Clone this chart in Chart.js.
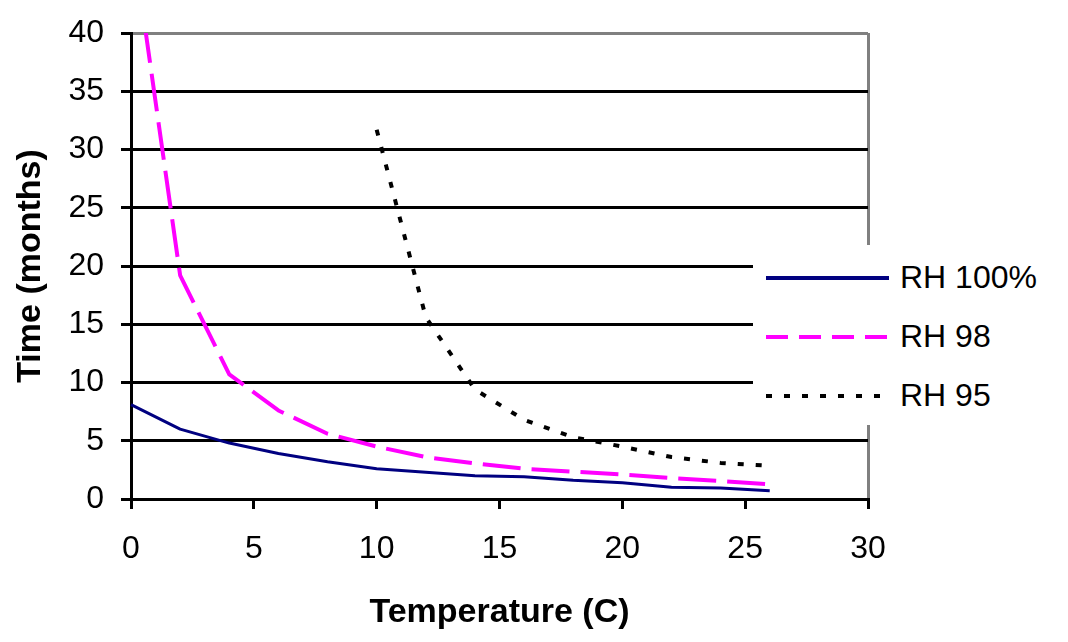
<!DOCTYPE html>
<html>
<head>
<meta charset="utf-8">
<script src="https://cdn.jsdelivr.net/npm/chart.js@4"></script>
<style>
  html, body { margin: 0; padding: 0; background: #fff; }
  #wrap { position: relative; width: 1068px; height: 642px; }
  #legend { position: absolute; left: 753px; top: 245px; }
</style>
</head>
<body>
<div id="wrap">
  <canvas id="c" width="1068" height="642"></canvas>
  <svg id="legend" width="315" height="180" xmlns="http://www.w3.org/2000/svg"></svg>
</div>
<script>
// ---- data ----
const temperatures = [0, 2, 4, 6, 8, 10, 12, 14, 16, 18, 20, 22, 24, 26];
const seriesNames = ['RH 100%', 'RH 98', 'RH 95'];
const rh100 = [8.1, 6.0, 4.8, 3.9, 3.2, 2.6, 2.3, 2.0, 1.9, 1.6, 1.4, 1.0, 0.95, 0.7];
const rh98  = [49, 19.2, 10.7, 7.6, 5.6, 4.5, 3.6, 3.05, 2.6, 2.35, 2.1, 1.8, 1.55, 1.25];
const rh95  = [null, null, null, null, null, 31.7, 15.6, 9.4, 6.8, 5.3, 4.5, 3.6, 3.1, 2.85];
const yTicks = [0, 5, 10, 15, 20, 25, 30, 35, 40];
const xTicks = [0, 5, 10, 15, 20, 25, 30];
const xTitle = 'Temperature (C)';
const yTitle = 'Time (months)';

// ---- styles ----
const styles = [
  { color: '#000080', width: 3, dash: [] },
  { color: '#FF00FF', width: 4, dash: [38, 11] },
  { color: '#000000', width: 4, dash: [6, 12] }
];
const seriesValues = [rh100, rh98, rh95];

const toPoints = vals => temperatures.map((t, i) => ({ x: t, y: vals[i] })).filter(p => p.y !== null);

const datasets = seriesValues.map((vals, i) => ({
  label: seriesNames[i],
  data: toPoints(vals),
  borderColor: styles[i].color,
  backgroundColor: styles[i].color,
  borderWidth: styles[i].width,
  borderDash: styles[i].dash,
  borderCapStyle: 'butt',
  borderJoinStyle: 'round',
  pointRadius: 0,
  pointHoverRadius: 0,
  tension: 0,
  fill: false,
  clip: { left: 4, top: 0, right: 4, bottom: 4 }
}));

const FONT = "'Liberation Sans', Arial, sans-serif";

new Chart(document.getElementById('c'), {
  type: 'line',
  data: { datasets },
  options: {
    responsive: false,
    animation: false,
    events: [],
    layout: { padding: { left: 0, top: 33, right: 200, bottom: 0 } },
    plugins: { legend: { display: false }, tooltip: { enabled: false } },
    scales: {
      x: {
        type: 'linear',
        min: xTicks[0],
        max: xTicks[xTicks.length - 1],
        afterBuildTicks: s => { s.ticks = xTicks.map(v => ({ value: v })); },
        afterFit: s => { s.height = 143; s.paddingLeft = 0; s.paddingRight = 0; },
        grid: {
          display: true,
          drawOnChartArea: true,
          drawTicks: true,
          tickLength: 10,
          lineWidth: 3,
          tickWidth: 3,
          tickColor: '#000',
          color: ctx => (ctx.tick && ctx.tick.value === xTicks[xTicks.length - 1]) ? '#808080' : 'rgba(0,0,0,0)'
        },
        border: { display: true, color: '#000', width: 3 },
        ticks: {
          color: '#000',
          font: { family: FONT, size: 32 },
          padding: 21,
          maxRotation: 0,
          autoSkip: false
        },
        title: {
          display: true,
          text: xTitle,
          color: '#000',
          font: { family: FONT, size: 34, weight: 'bold' },
          padding: { top: 0, bottom: 9 }
        }
      },
      y: {
        type: 'linear',
        min: yTicks[0],
        max: yTicks[yTicks.length - 1],
        afterBuildTicks: s => { s.ticks = yTicks.map(v => ({ value: v })); },
        afterFit: s => { s.width = 131; s.paddingTop = 0; s.paddingBottom = 0; },
        grid: {
          display: true,
          drawTicks: true,
          tickLength: 10,
          lineWidth: 3,
          tickWidth: 3,
          tickColor: '#000',
          color: ctx => (ctx.tick && ctx.tick.value === yTicks[yTicks.length - 1]) ? '#808080' : '#000'
        },
        border: { display: true, color: '#000', width: 3 },
        ticks: {
          color: '#000',
          font: { family: FONT, size: 32 },
          padding: 17,
          autoSkip: false
        },
        title: {
          display: true,
          text: yTitle,
          color: '#000',
          font: { family: FONT, size: 34, weight: 'bold' },
          padding: { top: 10, bottom: 0 }
        }
      }
    }
  }
});

// ---- legend (HTML/SVG overlay, real text) ----
const svgNS = 'http://www.w3.org/2000/svg';
const svg = document.getElementById('legend');
const bg = document.createElementNS(svgNS, 'rect');
bg.setAttribute('x', 0); bg.setAttribute('y', 0);
bg.setAttribute('width', 315); bg.setAttribute('height', 180);
bg.setAttribute('fill', '#fff');
svg.appendChild(bg);
const legendDash = [[], [22, 11], [6, 12]];
seriesNames.forEach((name, i) => {
  const ly = 33 + i * 59;
  const line = document.createElementNS(svgNS, 'line');
  line.setAttribute('x1', 13); line.setAttribute('x2', 136);
  line.setAttribute('y1', ly); line.setAttribute('y2', ly);
  line.setAttribute('stroke', styles[i].color);
  line.setAttribute('stroke-width', 4);
  if (legendDash[i].length) line.setAttribute('stroke-dasharray', legendDash[i].join(' '));
  svg.appendChild(line);
  const text = document.createElementNS(svgNS, 'text');
  text.setAttribute('x', 147);
  text.setAttribute('y', ly + 9.5);
  text.setAttribute('font-family', "Liberation Sans, Arial, sans-serif");
  text.setAttribute('font-size', 32);
  text.setAttribute('fill', '#000');
  text.textContent = name;
  svg.appendChild(text);
});
</script>
</body>
</html>
